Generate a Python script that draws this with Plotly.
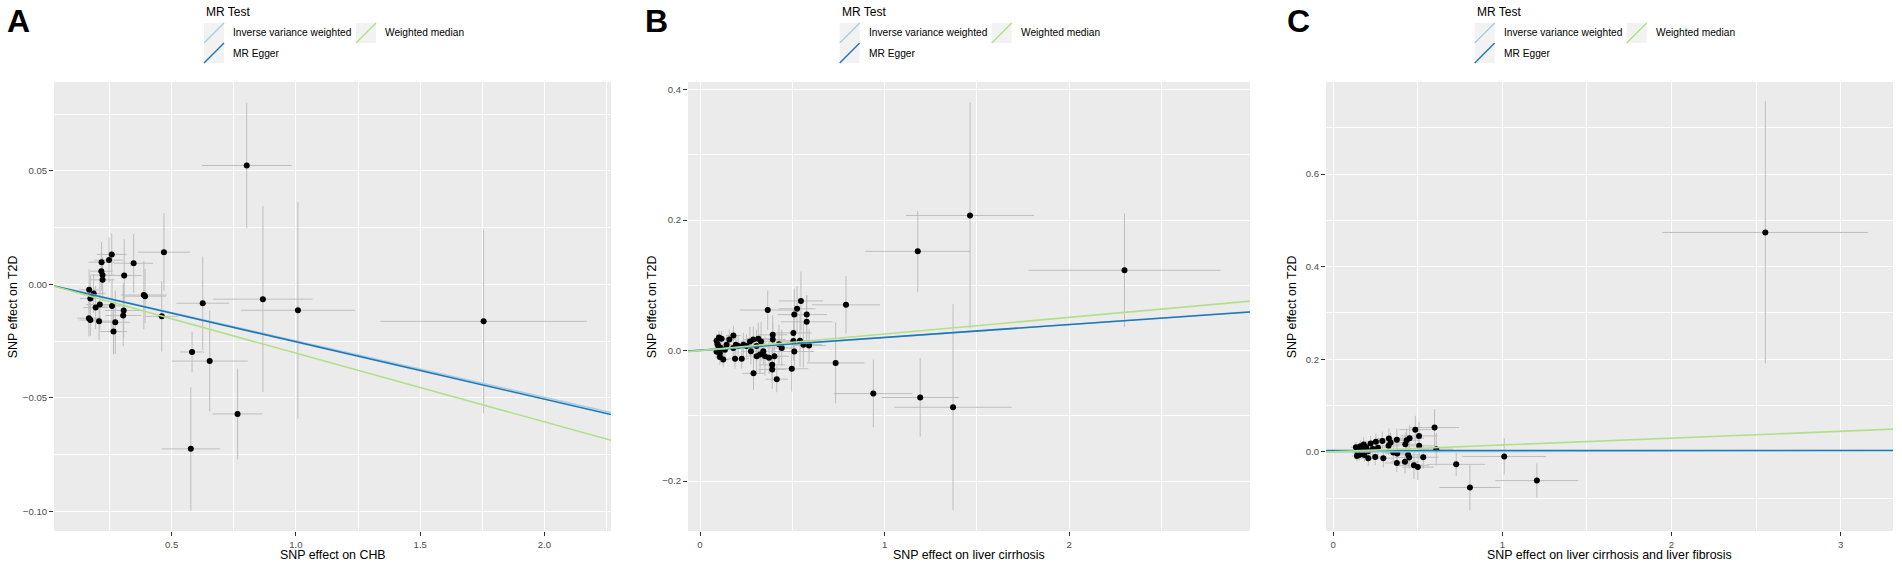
import plotly.graph_objects as go

W, H = 1902, 566

# ---- panel A: CHB -> T2D ----
a_bx = [0.802, 0.469, 0.259, 0.248, 0.218, 0.347, 0.217, 0.222, 0.222, 0.309, 0.388, 0.393,
        0.168, 0.186, 0.173, 0.211, 0.194, 0.260, 0.307, 0.305, 0.460, 0.167, 0.173, 0.208,
        0.273, 0.266, 0.625, 0.867, 1.008, 1.755, 0.582, 0.653, 0.765, 0.577]
a_by = [0.0524, 0.0142, 0.0132, 0.0107, 0.0098, 0.0093, 0.0058, 0.0041, 0.0020, 0.0039, -0.0047, -0.0052,
        -0.0024, -0.0040, -0.0062, -0.0089, -0.0102, -0.0095, -0.0115, -0.0137, -0.0141, -0.0149, -0.0157, -0.0162,
        -0.0167, -0.0208, -0.0083, -0.0065, -0.0114, -0.0163, -0.0298, -0.0338, -0.0571, -0.0725]
a_sx = [0.180, 0.105, 0.060, 0.058, 0.052, 0.078, 0.045, 0.050, 0.048, 0.070, 0.092, 0.085,
        0.040, 0.045, 0.042, 0.055, 0.050, 0.062, 0.075, 0.072, 0.065, 0.048, 0.044, 0.050,
        0.060, 0.055, 0.106, 0.200, 0.230, 0.415, 0.048, 0.153, 0.100, 0.118]
a_sy = [0.0276, 0.0172, 0.0094, 0.0100, 0.0090, 0.0130, 0.0085, 0.0080, 0.0095, 0.0160, 0.0150, 0.0120,
        0.0090, 0.0085, 0.0100, 0.0110, 0.0095, 0.0120, 0.0120, 0.0135, 0.0155, 0.0080, 0.0070, 0.0085,
        0.0140, 0.0100, 0.0206, 0.0410, 0.0477, 0.0405, 0.0090, 0.0222, 0.0200, 0.0272]

# ---- panel B: liver cirrhosis -> T2D ----
b_bx = [1.463, 1.180, 0.791, 0.735, 0.939, 1.193, 1.371, 2.300,
        0.367, 0.547, 0.526, 0.511, 0.578, 0.578, 0.506, 0.506, 0.542, 0.560, 0.591, 0.511,
        0.497, 0.394, 0.394, 0.428, 0.403, 0.391, 0.391, 0.416, 0.290, 0.316, 0.331, 0.289,
        0.271, 0.306, 0.276, 0.307, 0.325, 0.352, 0.374, 0.343, 0.226, 0.190, 0.235, 0.195,
        0.181, 0.159, 0.126, 0.108, 0.090, 0.099, 0.117, 0.135, 0.090, 0.108, 0.144, 0.207,
        0.252, 0.103, 0.095, 0.113, 0.180, 0.443]
b_by = [0.207, 0.152, 0.070, -0.019, -0.066, -0.072, -0.087, 0.123,
        0.062, 0.076, 0.064, 0.055, 0.055, 0.044, 0.027, 0.0145, 0.015, 0.009, 0.0076, -0.0015,
        -0.028, 0.024, 0.017, 0.0096, -0.0087, -0.022, -0.029, -0.044, -0.035, 0.018, 0.014, 0.0168,
        0.014, 0.007, -0.001, -0.0087, -0.006, -0.0087, -0.011, -0.001, -0.0127, -0.0127, 0.009, 0.009,
        0.023, 0.017, -0.0137, -0.010, 0.015, 0.007, 0.018, 0.001, -0.002, -0.004, 0.009, 0.007,
        0.007, 0.020, 0.010, 0.004, 0.004, 0.004]
b_sx = [0.347, 0.285, 0.184, 0.156, 0.213, 0.210, 0.318, 0.520,
        0.150, 0.120, 0.100, 0.090, 0.110, 0.140, 0.100, 0.095, 0.110, 0.100, 0.090, 0.105,
        0.090, 0.080, 0.070, 0.090, 0.080, 0.070, 0.075, 0.060, 0.060, 0.060, 0.070, 0.055,
        0.050, 0.060, 0.050, 0.060, 0.055, 0.065, 0.060, 0.070, 0.040, 0.035, 0.045, 0.040,
        0.040, 0.035, 0.030, 0.025, 0.022, 0.025, 0.028, 0.030, 0.022, 0.025, 0.030, 0.040,
        0.045, 0.025, 0.022, 0.025, 0.035, 0.080]
b_sy = [0.173, 0.062, 0.044, 0.062, 0.052, 0.060, 0.158, 0.087,
        0.030, 0.045, 0.035, 0.040, 0.030, 0.040, 0.035, 0.030, 0.040, 0.035, 0.025, 0.030,
        0.035, 0.030, 0.025, 0.030, 0.025, 0.025, 0.030, 0.020, 0.025, 0.025, 0.030, 0.020,
        0.022, 0.025, 0.020, 0.025, 0.030, 0.030, 0.025, 0.020, 0.015, 0.015, 0.018, 0.015,
        0.015, 0.015, 0.012, 0.012, 0.010, 0.012, 0.012, 0.013, 0.010, 0.012, 0.012, 0.015,
        0.018, 0.010, 0.010, 0.012, 0.014, 0.028]

# ---- panel C: liver cirrhosis and liver fibrosis -> T2D ----
c_bx = [2.555, 1.011, 1.204, 0.808, 0.727, 0.599, 0.609, 0.532, 0.507, 0.508, 0.485, 0.451,
        0.434, 0.426, 0.376, 0.329, 0.339, 0.327, 0.290, 0.252, 0.221, 0.180, 0.443, 0.449,
        0.378, 0.355, 0.376, 0.424, 0.477, 0.500, 0.296, 0.248, 0.207, 0.134, 0.144, 0.154,
        0.164, 0.174, 0.184, 0.160, 0.194, 0.208, 0.234, 0.264, 0.140]
c_by = [0.474, -0.010, -0.062, -0.077, -0.027, 0.0525, 0.0058, -0.0115, 0.0345, 0.013, 0.048, 0.0296,
        0.025, 0.0166, 0.026, 0.0287, 0.020, 0.013, 0.0237, 0.022, 0.018, 0.016, -0.0065, -0.012,
        -0.0037, -0.0015, -0.024, -0.0216, -0.029, -0.033, -0.0137, -0.011, -0.014, 0.010, -0.002, -0.007,
        0.006, 0.002, -0.007, 0.012, 0.010, 0.002, 0.006, 0.009, -0.009]
c_sx = [0.608, 0.247, 0.245, 0.180, 0.170, 0.145, 0.100, 0.090, 0.110, 0.090, 0.095, 0.085,
        0.080, 0.085, 0.075, 0.070, 0.075, 0.070, 0.065, 0.055, 0.050, 0.040, 0.080, 0.085,
        0.070, 0.075, 0.070, 0.085, 0.090, 0.095, 0.060, 0.055, 0.045, 0.030, 0.030, 0.032,
        0.035, 0.035, 0.038, 0.034, 0.040, 0.042, 0.048, 0.052, 0.030]
c_sy = [0.283, 0.039, 0.037, 0.049, 0.025, 0.040, 0.035, 0.025, 0.030, 0.028, 0.030, 0.028,
        0.025, 0.025, 0.025, 0.022, 0.022, 0.020, 0.020, 0.018, 0.016, 0.015, 0.025, 0.025,
        0.022, 0.022, 0.020, 0.025, 0.030, 0.028, 0.020, 0.018, 0.016, 0.012, 0.013, 0.012,
        0.014, 0.013, 0.014, 0.013, 0.015, 0.015, 0.016, 0.018, 0.012]

# MR estimates (intercept, slope) per panel: IVW, MR Egger, Weighted median
methods = ["Inverse variance weighted", "MR Egger", "Weighted median"]
method_colors = ["#a6cee3", "#1f78b4", "#b2df8a"]
a_fits = [(0.0, -0.0249), (0.0, -0.0253), (0.0, -0.0303)]
b_fits = [(0.0, 0.0199), (0.0003, 0.0197), (0.0, 0.0254)]
c_fits = [(0.0, 0.0009), (0.003, 0.0), (0.0, 0.0148)]

x_titles = ["SNP effect on CHB", "SNP effect on liver cirrhosis",
            "SNP effect on liver cirrhosis and liver fibrosis"]
letters = ["A", "B", "C"]

FONT = "Liberation Sans, Arial, sans-serif"

# panel geometry in pixels
panel_left = [54, 688, 1326]
panel_right = [611, 1250, 1893]
panel_top, panel_bottom = 82, 531
x_ranges = [[0.0266, 2.2675], [-0.065, 2.98], [-0.043, 3.31]]
y_ranges = [[-0.1087, 0.0892], [-0.2766, 0.4115], [-0.171, 0.799]]
x_dticks = [0.5, 1, 1]
y_dticks = [0.05, 0.2, 0.2]
x_formats = [".1f", "d", "d"]
y_formats = [".2f", ".1f", ".1f"]
legend_dx = [0, 635.7, 1270.7]
letter_x = [5, 643, 1285]
ytitle_x = [12.7, 651.7, 1291.7]


def fx(p):
    return p / W


def fy(p):
    return 1 - p / H


fig = go.Figure()
panels = [(a_bx, a_by, a_sx, a_sy, a_fits),
          (b_bx, b_by, b_sx, b_sy, b_fits),
          (c_bx, c_by, c_sx, c_sy, c_fits)]

for i, (bx, by, sx, sy, fits) in enumerate(panels):
    xa = "x" if i == 0 else f"x{i + 1}"
    ya = "y" if i == 0 else f"y{i + 1}"
    fig.add_trace(go.Scatter(
        x=bx, y=by, mode="markers", xaxis=xa, yaxis=ya, showlegend=False,
        marker=dict(color="black", size=6),
        error_x=dict(type="data", array=sx, color="#bebebe", thickness=1, width=0),
        error_y=dict(type="data", array=sy, color="#bebebe", thickness=1, width=0),
    ))
    x0, x1 = x_ranges[i]
    for (a, b), name, col in zip(fits, methods, method_colors):
        fig.add_trace(go.Scatter(
            x=[x0, x1], y=[a + b * x0, a + b * x1], mode="lines", xaxis=xa, yaxis=ya,
            showlegend=False, name=name, line=dict(color=col, width=1.6),
        ))

    axis_common = dict(
        showgrid=True, gridcolor="white", gridwidth=1.1, zeroline=False, showline=False,
        ticks="outside", ticklen=4, tickwidth=1, tickcolor="#333333",
        tickfont=dict(family=FONT, size=9.6, color="#4d4d4d"),
    )
    fig.layout[f"xaxis{'' if i == 0 else i + 1}"] = dict(
        domain=[fx(panel_left[i]), fx(panel_right[i])], range=x_ranges[i],
        anchor=ya, dtick=x_dticks[i], tick0=0, tickformat=x_formats[i],
        minor=dict(dtick=x_dticks[i] / 2, tick0=0, showgrid=True, gridcolor="white", gridwidth=0.55),
        **axis_common,
    )
    fig.layout[f"yaxis{'' if i == 0 else i + 1}"] = dict(
        domain=[fy(panel_bottom), fy(panel_top)], range=y_ranges[i],
        anchor=xa, dtick=y_dticks[i], tick0=0, tickformat=y_formats[i],
        minor=dict(dtick=y_dticks[i] / 2, tick0=0, showgrid=True, gridcolor="white", gridwidth=0.55),
        **axis_common,
    )

    # panel letter
    fig.add_annotation(x=fx(letter_x[i]), y=fy(21), xref="paper", yref="paper",
                       text=f"<b>{letters[i]}</b>", showarrow=False, xanchor="left", yanchor="middle",
                       font=dict(family=FONT, size=32, color="black"))
    # axis titles
    fig.add_annotation(x=fx((panel_left[i] + panel_right[i]) / 2), y=fy(555), xref="paper", yref="paper",
                       text=x_titles[i], showarrow=False, xanchor="center", yanchor="middle",
                       font=dict(family=FONT, size=12.4, color="black"))
    fig.add_annotation(x=fx(ytitle_x[i]), y=fy((panel_top + panel_bottom) / 2), xref="paper", yref="paper",
                       text="SNP effect on T2D", showarrow=False, textangle=-90,
                       xanchor="center", yanchor="middle",
                       font=dict(family=FONT, size=12.4, color="black"))

    # legend (ggplot style, two columns)
    dx = legend_dx[i]
    fig.add_annotation(x=fx(204 + dx), y=fy(12), xref="paper", yref="paper", text="MR Test",
                       showarrow=False, xanchor="left", yanchor="middle",
                       font=dict(family=FONT, size=12, color="black"))
    key_pos = [(204, 23), (204, 43), (356, 23)]
    for (kx, ky), name, col in zip(key_pos, methods, method_colors):
        fig.add_shape(type="rect", xref="paper", yref="paper",
                      x0=fx(kx + dx), x1=fx(kx + dx + 20), y0=fy(ky + 20), y1=fy(ky),
                      fillcolor="#f2f2f2", line=dict(width=0), layer="above")
        fig.add_shape(type="line", xref="paper", yref="paper",
                      x0=fx(kx + dx), x1=fx(kx + dx + 20), y0=fy(ky + 20), y1=fy(ky),
                      line=dict(color=col, width=1.4), layer="above")
        fig.add_annotation(x=fx(kx + dx + 27), y=fy(ky + 10), xref="paper", yref="paper", text=name,
                           showarrow=False, xanchor="left", yanchor="middle",
                           font=dict(family=FONT, size=10.2, color="black"))

fig.update_layout(
    width=W, height=H, autosize=False,
    margin=dict(l=0, r=0, t=0, b=0),
    paper_bgcolor="white", plot_bgcolor="#ebebeb",
    font=dict(family=FONT),
    showlegend=False,
)

fig.write_html("out.html", config={"displayModeBar": False},
               post_script="document.body.style.margin='0';")
